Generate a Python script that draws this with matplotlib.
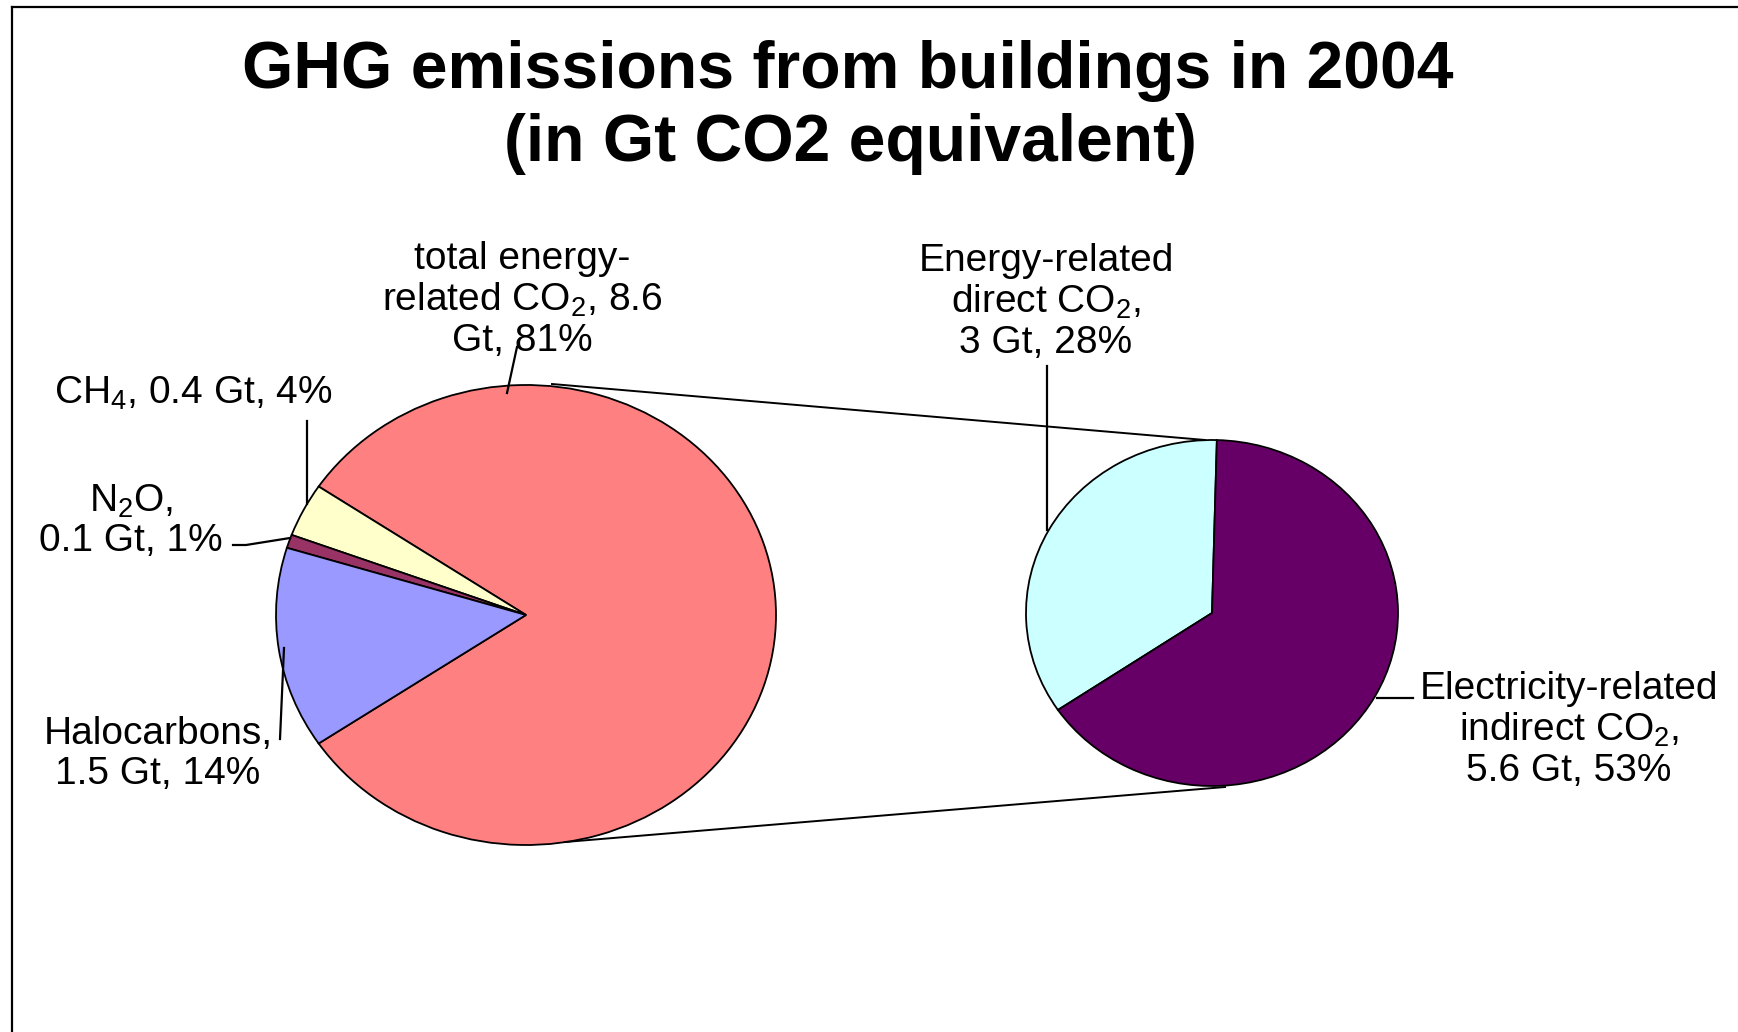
import matplotlib.pyplot as plt

plt.rcParams['font.family'] = ['Liberation Sans', 'DejaVu Sans']
plt.rcParams['mathtext.fontset'] = 'custom'
plt.rcParams['mathtext.rm'] = 'Liberation Sans'
plt.rcParams['mathtext.it'] = 'Liberation Sans:italic'
plt.rcParams['mathtext.bf'] = 'Liberation Sans:bold'

W, H = 1738, 1032

# building GHG emissions 2004, Gt CO2-eq
gas_gt = [8.6, 0.4, 0.1, 1.5]            # energy CO2, CH4, N2O, halocarbons
gas_colors = ['#FF8080', '#FFFFCC', '#993366', '#9999FF']

# breakdown of the energy-related CO2
co2_gt = [3.0, 5.6]                      # direct, electricity-related indirect
co2_colors = ['#CCFFFF', '#660066']

total = sum(gas_gt)


def lab(v):
    return f'{v:g} Gt, {100 * v / total:.0f}%'


fig = plt.figure(figsize=(W / 100, H / 100), dpi=100)

# overlay in pixel units for labels, leader lines and the frame
canvas = fig.add_axes([0, 0, 1, 1])
canvas.set_xlim(0, W)
canvas.set_ylim(H, 0)
canvas.axis('off')
canvas.set_zorder(3)


def pie_axes(cx, cy, rx, ry):
    ax = fig.add_axes([(cx - 1.25 * rx) / W, (H - cy - 1.25 * ry) / H,
                       2.5 * rx / W, 2.5 * ry / H])
    return ax


wp = dict(edgecolor='black', linewidth=1.3)

ax1 = pie_axes(526, 615, 250, 230)
ax1.pie(gas_gt, colors=gas_colors, startangle=-180 * gas_gt[0] / total,
        wedgeprops=wp)
ax1.set_aspect('auto')
ax1.set_xlim(-1.25, 1.25)
ax1.set_ylim(-1.25, 1.25)

ax2 = pie_axes(1212, 613, 186, 173)
ax2.pie(co2_gt, colors=co2_colors, startangle=88.5, wedgeprops=wp)
ax2.set_aspect('auto')
ax2.set_xlim(-1.25, 1.25)
ax2.set_ylim(-1.25, 1.25)

# frame (left and top edges only)
canvas.plot([12, 12], [7, H], color='black', lw=1.6)
canvas.plot([12, W], [7, 7], color='black', lw=1.6)

# title
canvas.text(848, 71, 'GHG emissions from buildings in 2004', ha='center',
            va='center', fontsize=47.5, fontweight='bold')
canvas.text(850, 144, '(in Gt CO2 equivalent)', ha='center', va='center',
            fontsize=47.5, fontweight='bold')

# series lines between the pies
canvas.plot([552, 1205], [384, 440], color='black', lw=1.4)
canvas.plot([565, 1225], [842, 787], color='black', lw=1.4)

fs = 28
ls = 1.12
labels = [
    (522, 300, f'total energy-\nrelated CO$_\\mathregular{{2}}$, {gas_gt[0]:g}\n'
               f'Gt, {100 * gas_gt[0] / total:.0f}%'),
    (193, 393, f'CH$_\\mathregular{{4}}$, {lab(gas_gt[1])}'),
    (131, 521, f'N$_\\mathregular{{2}}$O,\n{lab(gas_gt[2])}'),
    (158, 754, f'Halocarbons,\n{lab(gas_gt[3])}'),
    (1046, 302, f'Energy-related\ndirect CO$_\\mathregular{{2}}$,\n{lab(co2_gt[0])}'),
    (1569, 730, f'Electricity-related\nindirect CO$_\\mathregular{{2}}$,\n{lab(co2_gt[1])}'),
]
for x, y, s in labels:
    canvas.text(x, y, s, ha='center', va='center', fontsize=fs,
                linespacing=ls, multialignment='center')

# leader lines
leaders = [
    ([507, 517], [393, 347]),
    ([307, 307], [421, 504]),
    ([233, 246, 290], [545, 545, 538]),
    ([280, 284], [739, 648]),
    ([1047, 1047], [366, 530]),
    ([1377, 1413], [698, 698]),
]
for xs, ys in leaders:
    canvas.plot(xs, ys, color='black', lw=1.6)

fig.savefig('out.png', dpi=100)
